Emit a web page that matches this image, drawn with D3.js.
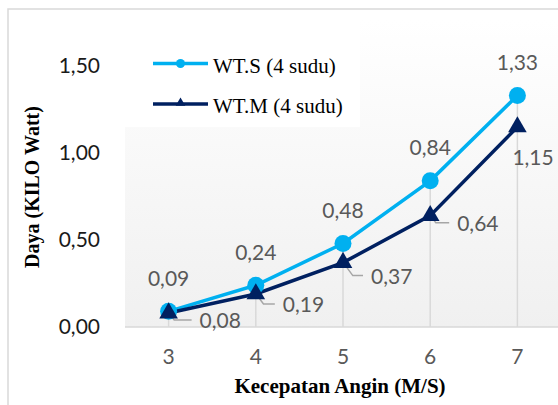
<!DOCTYPE html>
<html><head><meta charset="utf-8">
<script src="https://cdn.jsdelivr.net/npm/d3@7"></script>
<style>body{margin:0;background:#fff}svg{display:block}</style>
</head><body><svg id="c" width="558" height="405"></svg>
<script>
const categories = ["3","4","5","6","7"];
const seriesNames = ["WT.S (4 sudu)", "WT.M (4 sudu)"];
const wtS = [0.09, 0.24, 0.48, 0.84, 1.33];
const wtM = [0.08, 0.19, 0.37, 0.64, 1.15];
const yTicks = [0, 0.5, 1.0, 1.5];
const xTitle = "Kecepatan Angin (M/S)";
const yTitle = "Daya (KILO Watt)";

// layout (label placement offsets for WT.M, px from point: left edge, centre y)
const labelOffsetM = [[31, 8], [27, 11], [28, 14], [27, 8], [-5, 31]];

const colS = "#00b0f0", colM = "#002060";
const numFont = "Lato, 'Open Sans', sans-serif";
const serif = "'Liberation Serif', 'Times New Roman', serif";
const fmt = v => d3.format(".2f")(v).replace(".", ",");

const svg = d3.select("#c");
const plot = {left: 125, right: 561, top: 20, bottom: 327};
const x = d3.scaleBand().domain(categories).range([plot.left, plot.right]);
const cx = c => x(c) + x.bandwidth() / 2;
const y = d3.scaleLinear().domain([0, 1.5]).range([327, 66]);

// background
svg.append("rect").attr("width", 558).attr("height", 405).attr("fill", "#fff");
const defs = svg.append("defs");
const g = defs.append("linearGradient").attr("id", "bg").attr("x1", 0).attr("y1", 0).attr("x2", 0).attr("y2", 1);
g.append("stop").attr("offset", "0%").attr("stop-color", "#ffffff");
g.append("stop").attr("offset", "100%").attr("stop-color", "#f0f0f0");
svg.append("rect").attr("x", plot.left).attr("y", plot.top)
  .attr("width", plot.right - plot.left).attr("height", plot.bottom - plot.top)
  .attr("fill", "url(#bg)");
// legend box
svg.append("rect").attr("x", plot.left).attr("y", plot.top).attr("width", 235).attr("height", 107).attr("fill", "#fff");

// outer border
svg.append("rect").attr("x", 8).attr("y", 9).attr("width", 600).attr("height", 450)
  .attr("fill", "none").attr("stroke", "#d9d9d9").attr("stroke-width", 1.5);

// drop lines
svg.append("g").selectAll("line").data(categories).join("line")
  .attr("x1", d => cx(d)).attr("x2", d => cx(d))
  .attr("y1", (d, i) => y(Math.max(wtS[i], wtM[i]))).attr("y2", y(0))
  .attr("stroke", "#d9d9d9").attr("stroke-width", 1.5);

// x axis
const xAxis = svg.append("g").attr("transform", `translate(0,${y(0)})`)
  .call(d3.axisBottom(x).tickSize(0).tickPadding(22));
xAxis.select(".domain").attr("stroke", "#d9d9d9").attr("stroke-width", 1.5)
  .attr("d", `M${plot.left},0H${plot.right}`);
xAxis.selectAll("text").attr("font-family", numFont).attr("font-size", 21).attr("fill", "#595959");

// y axis
const yAxis = svg.append("g").attr("transform", `translate(100,0)`)
  .call(d3.axisLeft(y).tickValues(yTicks).tickFormat(fmt).tickSize(0).tickPadding(0));
yAxis.select(".domain").remove();
yAxis.selectAll("text").attr("font-family", numFont).attr("font-size", 21).attr("fill", "#1a1a1a");

// lines
const line = d3.line().x((d, i) => cx(categories[i])).y(d => y(d));
svg.append("path").datum(wtS).attr("d", line).attr("fill", "none").attr("stroke", colS).attr("stroke-width", 3.5);
svg.append("path").datum(wtM).attr("d", line).attr("fill", "none").attr("stroke", colM).attr("stroke-width", 3.5);

// leader lines for WT.M labels
svg.append("g").selectAll("path").data(wtM).join("path")
  .filter((d, i) => labelOffsetM[i][0] > 15)
  .attr("d", (d, i) => {
    const px = cx(categories[i]), py = y(d);
    const [dx, dy] = labelOffsetM[i];
    const ly = py + dy - 1;
    return `M${px + 1},${py + 1}L${px + Math.max(dy * 0.7, 2)},${ly}L${px + dx - 8},${ly}`;
  })
  .attr("fill", "none").attr("stroke", "#a6a6a6").attr("stroke-width", 1.5);

// markers
svg.append("g").selectAll("circle").data(wtS).join("circle")
  .attr("cx", (d, i) => cx(categories[i])).attr("cy", d => y(d)).attr("r", 8.5).attr("fill", colS);
svg.append("g").selectAll("path").data(wtM).join("path")
  .attr("transform", (d, i) => `translate(${cx(categories[i])},${y(d)})`)
  .attr("d", d3.symbol(d3.symbolTriangle, 150)).attr("fill", colM);

// data labels
svg.append("g").selectAll("text").data(wtS).join("text")
  .attr("x", (d, i) => cx(categories[i])).attr("y", d => y(d) - 33).attr("dy", "0.35em")
  .attr("text-anchor", "middle").attr("font-family", numFont).attr("font-size", 21).attr("fill", "#595959")
  .text(fmt);
svg.append("g").selectAll("text").data(wtM).join("text")
  .attr("x", (d, i) => cx(categories[i]) + labelOffsetM[i][0]).attr("y", (d, i) => y(d) + labelOffsetM[i][1]).attr("dy", "0.35em")
  .attr("text-anchor", "start").attr("font-family", numFont).attr("font-size", 21).attr("fill", "#595959")
  .text(fmt);

// legend
const leg = svg.append("g");
[colS, colM].forEach((c, i) => {
  const ly = 63.5 + i * 40.5;
  leg.append("line").attr("x1", 153).attr("x2", 208).attr("y1", ly).attr("y2", ly).attr("stroke", c).attr("stroke-width", 3.5);
  if (i === 0) leg.append("circle").attr("cx", 180.5).attr("cy", ly).attr("r", 4.5).attr("fill", c);
  else leg.append("path").attr("transform", `translate(180.5,${ly - 1})`).attr("d", d3.symbol(d3.symbolTriangle, 40)).attr("fill", c);
  leg.append("text").attr("x", 213).attr("y", ly + 9).attr("font-family", serif).attr("font-size", 21).attr("fill", "#000")
    .text(seriesNames[i]);
});

// axis titles
svg.append("text").attr("x", 340).attr("y", 393).attr("text-anchor", "middle")
  .attr("font-family", serif).attr("font-weight", "bold").attr("font-size", 21).attr("fill", "#000").text(xTitle);
svg.append("text").attr("transform", "translate(39,187) rotate(-90)").attr("text-anchor", "middle")
  .attr("font-family", serif).attr("font-weight", "bold").attr("font-size", 20).attr("fill", "#000").text(yTitle);
</script></body></html>
